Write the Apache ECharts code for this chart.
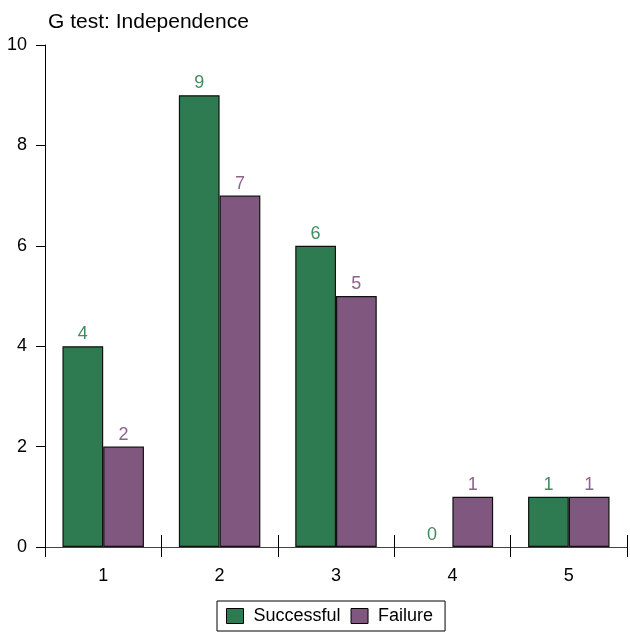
<!DOCTYPE html>
<html>
<head>
<meta charset="utf-8">
<script src="https://cdn.jsdelivr.net/npm/echarts@6/dist/echarts.min.js"></script>
<style>html,body{margin:0;padding:0;background:#fff}#c{width:630px;height:632px}</style>
</head>
<body>
<div id="c"></div>
<script>
const categories = ['1', '2', '3', '4', '5'];
const successful = [4, 9, 6, 0, 1];
const failure = [2, 7, 5, 1, 1];
const yTicks = [0, 2, 4, 6, 8, 10];

const GREEN = '#2e7b52';
const PURPLE = '#7f577f';
const FONT = '"Liberation Sans", Arial, sans-serif';

function barData(values) {
  return values.map(v => v === 0 ? {value: v, itemStyle: {borderWidth: 0}} : v);
}

const chart = echarts.init(document.getElementById('c'));
chart.setOption({
  animation: false,
  backgroundColor: '#fff',
  title: {
    text: 'G test: Independence',
    left: 43, top: 7,
    textStyle: {fontFamily: FONT, fontSize: 21, fontWeight: 'normal', color: '#000'}
  },
  legend: {
    bottom: 1, left: 217,
    data: ['Successful', 'Failure'],
    borderColor: '#000', borderWidth: 1,
    padding: [6, 12, 6, 9],
    itemWidth: 17, itemHeight: 15, itemGap: 10,
    icon: 'rect',
    itemStyle: {borderColor: '#000', borderWidth: 1},
    textStyle: {fontFamily: FONT, fontSize: 18, color: '#000', padding: [0, 0, 0, 5]}
  },
  grid: {left: 45, right: 3, top: 45, bottom: 85, containLabel: false},
  xAxis: [{
    type: 'category', data: categories,
    axisLine: {lineStyle: {color: '#444', width: 1}},
    axisTick: {show: true, alignWithLabel: false, length: 10, lineStyle: {color: '#000'}},
    axisLabel: {fontFamily: FONT, fontSize: 18, color: '#000', margin: 20}
  }, {
    type: 'category', data: categories, position: 'bottom',
    axisLine: {show: false},
    axisTick: {show: true, inside: true, length: 12, lineStyle: {color: '#000'}},
    axisLabel: {show: false}
  }],
  yAxis: {
    type: 'value', min: 0, max: 10, interval: 2,
    splitLine: {show: false},
    axisLine: {show: true, lineStyle: {color: '#000', width: 1}},
    axisTick: {show: true, length: 9, lineStyle: {color: '#000'}},
    axisLabel: {fontFamily: FONT, fontSize: 18, color: '#000', margin: 18,
      formatter: v => yTicks.includes(v) ? String(v) : ''}
  },
  series: [{
    name: 'Successful', type: 'bar', data: barData(successful),
    barWidth: '35%', barGap: '0%',
    itemStyle: {color: GREEN, borderColor: '#111', borderWidth: 1.2},
    label: {show: true, position: 'top', distance: 3, color: '#3f8c5f', fontFamily: FONT, fontSize: 18}
  }, {
    name: 'Failure', type: 'bar', data: barData(failure),
    barWidth: '35%', barGap: '0%',
    itemStyle: {color: PURPLE, borderColor: '#111', borderWidth: 1.2},
    label: {show: true, position: 'top', distance: 3, color: '#8c638c', fontFamily: FONT, fontSize: 18}
  }]
});
</script>
</body>
</html>
